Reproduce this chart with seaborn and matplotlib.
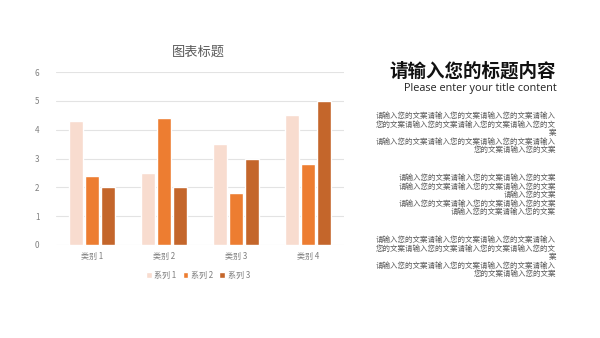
import matplotlib
matplotlib.use("Agg")
import matplotlib.pyplot as plt
import seaborn as sns
import pandas as pd
from matplotlib.patches import Patch

categories = ["类别 1", "类别 2", "类别 3", "类别 4"]
series_names = ["系列 1", "系列 2", "系列 3"]
series1 = [4.3, 2.5, 3.5, 4.5]
series2 = [2.4, 4.4, 1.8, 2.8]
series3 = [2.0, 2.0, 3.0, 5.0]
y_ticks = [0, 1, 2, 3, 4, 5, 6]

chart_title = "图表标题"
main_title = "请输入您的标题内容"
sub_title = "Please enter your title content"
block1 = ["请输入您的文案请输入您的文案请输入您的文案请输入",
          "您的文案请输入您的文案请输入您的文案请输入您的文",
          "案",
          "请输入您的文案请输入您的文案请输入您的文案请输入",
          "您的文案请输入您的文案"]
block2 = ["请输入您的文案请输入您的文案请输入您的文案",
          "请输入您的文案请输入您的文案请输入您的文案",
          "请输入您的文案",
          "请输入您的文案请输入您的文案请输入您的文案",
          "请输入您的文案请输入您的文案"]
block3 = list(block1)

colors = ["#F8DCCF", "#ED7D31", "#C4662B"]

sns.set_theme(style="white")
plt.rcParams['font.family'] = ['Noto Sans CJK SC', 'DejaVu Sans']

df = pd.DataFrame({
    "cat": categories * 3,
    "val": series1 + series2 + series3,
    "ser": [s for s in series_names for _ in categories],
})

fig = plt.figure(figsize=(6.0, 3.38), dpi=100)
ax = fig.add_axes([56/600, 1-245/338, 288/600, 173/338])
sns.barplot(data=df, x="cat", y="val", hue="ser", palette=colors, ax=ax,
            width=0.66, gap=0.15, legend=False, saturation=1)
ax.set_ylim(0, 6)
ax.set_yticks(y_ticks)
ax.set_xlim(-0.5, 3.5)
ax.grid(axis="y", color="#E3E3E3", linewidth=0.8)
ax.set_axisbelow(True)
for s in ax.spines.values():
    s.set_visible(False)
ax.set_xlabel("")
ax.set_ylabel("")
ax.tick_params(axis="both", length=0, labelsize=5.8, colors="#7F7F7F", pad=5)
ax.tick_params(axis="y", pad=12)

fig.text(198/600, 1-52/338, chart_title, ha="center", va="center",
         fontsize=9.5, color="#595959")

handles = [Patch(facecolor=c, label=n) for c, n in zip(colors, series_names)]
fig.legend(handles=handles, loc="center", bbox_to_anchor=(198/600, 1-275/338),
           ncol=3, frameon=False, fontsize=5.8, handlelength=0.7, handleheight=0.7,
           handletextpad=0.3, columnspacing=0.8, labelcolor="#7F7F7F")

fig.text(556/600, 1-71/338, main_title, ha="right", va="center",
         fontsize=13.3, fontweight="bold", color="#111111")
fig.text(557/600, 1-88/338, sub_title, ha="right", va="center",
         fontsize=7.8, color="#222222", family=["Open Sans", "DejaVu Sans"])

def draw_block(lines, y0):
    for i, line in enumerate(lines):
        fig.text(556/600, 1-(y0 + i*8.5)/338, line, ha="right", va="center",
                 fontsize=5.4, color="#595959")

draw_block(block1, 116)
draw_block(block2, 178)
draw_block(block3, 240)

fig.savefig("out.png", dpi=100)
